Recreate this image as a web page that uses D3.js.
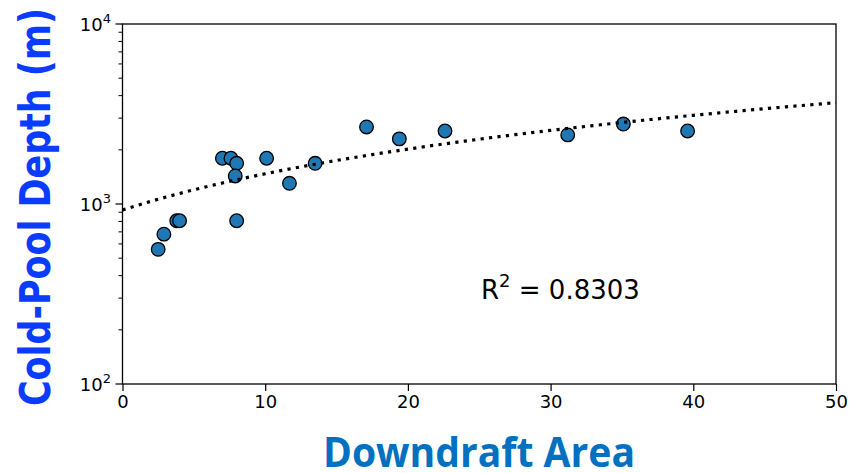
<!DOCTYPE html>
<html>
<head>
<meta charset="utf-8">
<script src="https://cdn.jsdelivr.net/npm/d3@7"></script>
<style>
  body { margin: 0; background: #fff; }
  svg { display: block; }
  text { font-family: "DejaVu Sans", sans-serif; }
</style>
</head>
<body>
<div id="chart"></div>
<script>
// downdraft area vs cold-pool depth
var areas  = [2.5, 2.9, 3.8, 4.0, 7.0, 7.6, 8.0, 7.9, 8.0, 10.1, 11.7, 13.5, 17.1, 19.4, 22.6, 31.2, 35.1, 39.6];
var depths = [560, 680, 807, 807, 1795, 1795, 1683, 1432, 807, 1795, 1303, 1683, 2680, 2300, 2545, 2420, 2780, 2545];

// linear fit shown as dotted line
var fitIntercept = 926;
var fitSlope = 54.6;
var rSquared = "0.8303";

var xTicks = [0, 10, 20, 30, 40, 50];
var yMajor = [2, 3, 4];   // exponents

var width = 850, height = 473;
var pLeft = 122.5, pRight = 836, pTop = 24, pBottom = 384;

var svg = d3.select("#chart").append("svg")
  .attr("width", width)
  .attr("height", height);

var x = d3.scaleLinear().domain([0, 50]).range([pLeft, pRight]);
var y = d3.scaleLog().domain([100, 10000]).range([pBottom, pTop]);

// x axis
var xAxis = d3.axisBottom(x).tickValues(xTicks).tickSize(7).tickPadding(4);
var gx = svg.append("g")
  .attr("transform", "translate(0," + pBottom + ")")
  .call(xAxis)
  .attr("font-size", 18)
  .attr("font-family", "DejaVu Sans");
gx.select(".domain").remove();
gx.selectAll(".tick line").attr("stroke", "#000").attr("stroke-width", 1.2);
gx.selectAll(".tick text")
  .attr("fill", "#000")
  .style("font-size", "18px");

// y axis minor ticks
var minor = [];
[100, 1000].forEach(function(d) {
  for (var k = 2; k <= 9; k++) minor.push(d * k);
});
svg.append("g").selectAll("line.minor")
  .data(minor)
  .enter().append("line")
  .attr("x1", pLeft - 4).attr("x2", pLeft)
  .attr("y1", function(d) { return y(d); })
  .attr("y2", function(d) { return y(d); })
  .attr("stroke", "#000").attr("stroke-width", 1);

// y axis major ticks and labels
var gy = svg.append("g");
gy.selectAll("line.major")
  .data(yMajor)
  .enter().append("line")
  .attr("x1", pLeft - 7).attr("x2", pLeft)
  .attr("y1", function(d) { return y(Math.pow(10, d)); })
  .attr("y2", function(d) { return y(Math.pow(10, d)); })
  .attr("stroke", "#000").attr("stroke-width", 1.2);

var lab = gy.selectAll("text")
  .data(yMajor)
  .enter().append("text")
  .attr("x", 111)
  .attr("y", function(d) { return y(Math.pow(10, d)) + 7; })
  .attr("text-anchor", "end")
  .attr("font-size", 18)
  .attr("fill", "#000");
lab.append("tspan").text("10");
lab.append("tspan")
  .attr("dy", -8)
  .attr("font-size", 13)
  .text(function(d) { return d; });

// frame
svg.append("rect")
  .attr("x", pLeft).attr("y", pTop)
  .attr("width", pRight - pLeft).attr("height", pBottom - pTop)
  .attr("fill", "none")
  .attr("stroke", "#000")
  .attr("stroke-width", 1.3);

// scatter points
var pts = areas.map(function(a, i) { return { a: a, d: depths[i] }; });
svg.append("g").selectAll("circle")
  .data(pts)
  .enter().append("circle")
  .attr("cx", function(d) { return x(d.a); })
  .attr("cy", function(d) { return y(d.d); })
  .attr("r", 6.8)
  .attr("fill", "#1f77b4")
  .attr("stroke", "#000")
  .attr("stroke-width", 1.3);

// trend line
var xs = d3.range(0, 50.01, 0.5);
var line = d3.line()
  .x(function(d) { return x(d); })
  .y(function(d) { return y(fitIntercept + fitSlope * d); });
svg.append("path")
  .datum(xs)
  .attr("d", line)
  .attr("fill", "none")
  .attr("stroke", "#000")
  .attr("stroke-width", 3.2)
  .attr("stroke-dasharray", "3.2,5.3");

// R^2 label
var rt = svg.append("text")
  .attr("x", 481)
  .attr("y", 298.5)
  .attr("font-size", 26)
  .attr("fill", "#000");
rt.append("tspan").text("R");
rt.append("tspan").attr("dy", -12).attr("font-size", 18).text("2");
rt.append("tspan").attr("dy", 12).text(" = " + rSquared);

// axis titles
svg.append("text")
  .attr("transform", "translate(50," + ((pTop + pBottom) / 2 + 3) + ") rotate(-90)")
  .attr("text-anchor", "middle")
  .attr("font-size", 43)
  .attr("font-weight", "bold")
  .attr("fill", "#0a3cff")
  .attr("textLength", 398)
  .attr("lengthAdjust", "spacingAndGlyphs")
  .text("Cold-Pool Depth (m)");

svg.append("text")
  .attr("x", 479)
  .attr("y", 466.5)
  .attr("text-anchor", "middle")
  .attr("font-size", 42)
  .attr("font-weight", "bold")
  .attr("fill", "#0070c0")
  .attr("textLength", 312)
  .attr("lengthAdjust", "spacingAndGlyphs")
  .style("font-family", "'Open Sans', sans-serif")
  .text("Downdraft Area");
</script>
</body>
</html>
